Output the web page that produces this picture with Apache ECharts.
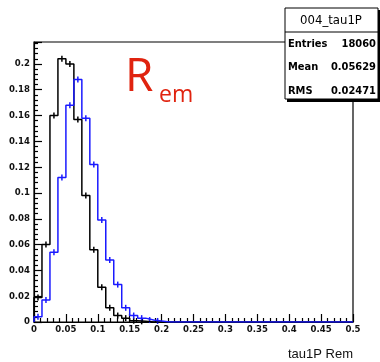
<!DOCTYPE html>
<html>
<head>
<meta charset="utf-8">
<script src="https://cdn.jsdelivr.net/npm/echarts@6/dist/echarts.min.js"></script>
<style>
  html, body { margin: 0; padding: 0; background: #fff; }
  #chart { width: 380px; height: 362px; }
</style>
</head>
<body>
<div id="chart"></div>
<script>
// bin edges (40 bins from 0 to 0.5)
const binEdges = [0, 0.0125, 0.025, 0.0375, 0.05, 0.0625, 0.075, 0.0875, 0.1, 0.1125,
  0.125, 0.1375, 0.15, 0.1625, 0.175, 0.1875, 0.2, 0.2125, 0.225, 0.2375,
  0.25, 0.2625, 0.275, 0.2875, 0.3, 0.3125, 0.325, 0.3375, 0.35, 0.3625,
  0.375, 0.3875, 0.4, 0.4125, 0.425, 0.4375, 0.45, 0.4625, 0.475, 0.4875, 0.5];

// black histogram
const blackVals = [0.019, 0.060, 0.160, 0.204, 0.200, 0.157, 0.098, 0.056, 0.027, 0.011,
  0.005, 0.003, 0.001, 0.0005, 0, 0, 0, 0, 0, 0,
  0, 0, 0, 0, 0, 0, 0, 0, 0, 0,
  0, 0, 0, 0, 0, 0, 0, 0, 0, 0];

// blue histogram
const blueVals = [0.004, 0.017, 0.054, 0.112, 0.168, 0.188, 0.158, 0.122, 0.079, 0.048,
  0.029, 0.011, 0.005, 0.003, 0.0015, 0.0008, 0, 0, 0, 0,
  0, 0, 0, 0, 0, 0, 0, 0, 0, 0,
  0, 0, 0, 0, 0, 0, 0, 0, 0, 0];

const statsTitle = '004_tau1P';
const statsRows = [['Entries', '18060'], ['Mean', '0.05629'], ['RMS', '0.02471']];
const xTitle = 'tau1P Rem';

const stepData = (vals) => {
  const pts = [[binEdges[0], 0]];
  vals.forEach((v, i) => pts.push([binEdges[i], v]));
  pts.push([binEdges[binEdges.length - 1], 0]);
  return pts;
};

const errData = (vals) => vals
  .map((v, i) => [(binEdges[i] + binEdges[i + 1]) / 2, v])
  .filter(p => p[1] > 0);

const errBars = (color) => (params, api) => {
  const p = api.coord([api.value(0), api.value(1)]);
  return {
    type: 'line',
    shape: { x1: p[0], y1: p[1] - 3, x2: p[0], y2: p[1] + 3 },
    style: { stroke: color, lineWidth: 1.5 }
  };
};

const narrow = "'Liberation Sans Narrow', 'DejaVu Sans Condensed', sans-serif";

const chart = echarts.init(document.getElementById('chart'));

chart.setOption({
  animation: false,
  grid: {
    left: 34, top: 42, right: 27, bottom: 40,
    show: true, borderColor: '#000', borderWidth: 1.2, backgroundColor: 'transparent'
  },
  xAxis: {
    type: 'value',
    min: 0, max: 0.5, interval: 0.05,
    axisLine: { show: true, onZero: false, lineStyle: { color: '#000', width: 1.2 } },
    axisTick: { inside: true, length: 8, lineStyle: { color: '#000', width: 1.2 } },
    minorTick: { show: true, splitNumber: 5, length: 4, lineStyle: { color: '#000', width: 1.2 } },
    splitLine: { show: false },
    axisLabel: { color: '#111', fontFamily: narrow, fontWeight: 'bold', fontSize: 9.5, margin: 3 },
    name: xTitle,
    nameLocation: 'end',
    nameGap: 0,
    nameTextStyle: {
      fontFamily: "'Liberation Sans', Arial, sans-serif", fontSize: 13, color: '#111',
      align: 'right', verticalAlign: 'top', padding: [26, 0, 0, 0]
    }
  },
  yAxis: {
    type: 'value',
    min: 0, max: 0.217, interval: 0.02,
    axisLine: { show: true, lineStyle: { color: '#000', width: 1.2 } },
    axisTick: { inside: true, length: 8, lineStyle: { color: '#000', width: 1.2 } },
    minorTick: { show: true, splitNumber: 5, length: 4, lineStyle: { color: '#000', width: 1.2 } },
    splitLine: { show: false },
    axisLabel: { color: '#111', fontFamily: narrow, fontWeight: 'bold', fontSize: 9.5, margin: 4, showMaxLabel: false }
  },
  series: [
    {
      name: 'black', type: 'line', step: 'end', data: stepData(blackVals),
      showSymbol: false, symbol: 'none',
      lineStyle: { color: '#000', width: 1.5 }
    },
    {
      type: 'custom', data: errData(blackVals), renderItem: errBars('#000')
    },
    {
      name: 'blue', type: 'line', step: 'end', data: stepData(blueVals),
      showSymbol: false, symbol: 'none',
      lineStyle: { color: '#1a1aff', width: 1.5 }
    },
    {
      type: 'custom', data: errData(blueVals), renderItem: errBars('#1a1aff')
    }
  ],
  graphic: [
    // R_em label
    {
      type: 'text', left: 125, top: 55, z: 10,
      style: { text: 'R', font: "46px 'Open Sans', sans-serif", fill: '#e0230f' }
    },
    {
      type: 'text', left: 159, top: 84, z: 10,
      style: { text: 'em', font: "23px 'Open Sans', sans-serif", fill: '#e0230f' }
    },
    // stats box shadow + box
    {
      type: 'rect', z: 20, shape: { x: 287, y: 10, width: 93, height: 92 },
      style: { fill: '#000' }
    },
    {
      type: 'rect', z: 21, shape: { x: 285, y: 8, width: 93, height: 91 },
      style: { fill: '#fff', stroke: '#000', lineWidth: 1 }
    },
    {
      type: 'line', z: 22, shape: { x1: 285, y1: 32, x2: 378, y2: 32 },
      style: { stroke: '#000', lineWidth: 1 }
    },
    {
      type: 'text', z: 22, x: 331, y: 21,
      style: { text: statsTitle, font: "13px " + narrow, fill: '#000', align: 'center', verticalAlign: 'middle' }
    },
    ...statsRows.flatMap((row, i) => [
      {
        type: 'text', z: 22, x: 288, y: 44 + i * 23.5,
        style: { text: row[0], font: "bold 11px " + narrow, fill: '#000', align: 'left', verticalAlign: 'middle' }
      },
      {
        type: 'text', z: 22, x: 376, y: 44 + i * 23.5,
        style: { text: row[1], font: "bold 11px " + narrow, fill: '#000', align: 'right', verticalAlign: 'middle' }
      }
    ])
  ]
});
</script>
</body>
</html>
